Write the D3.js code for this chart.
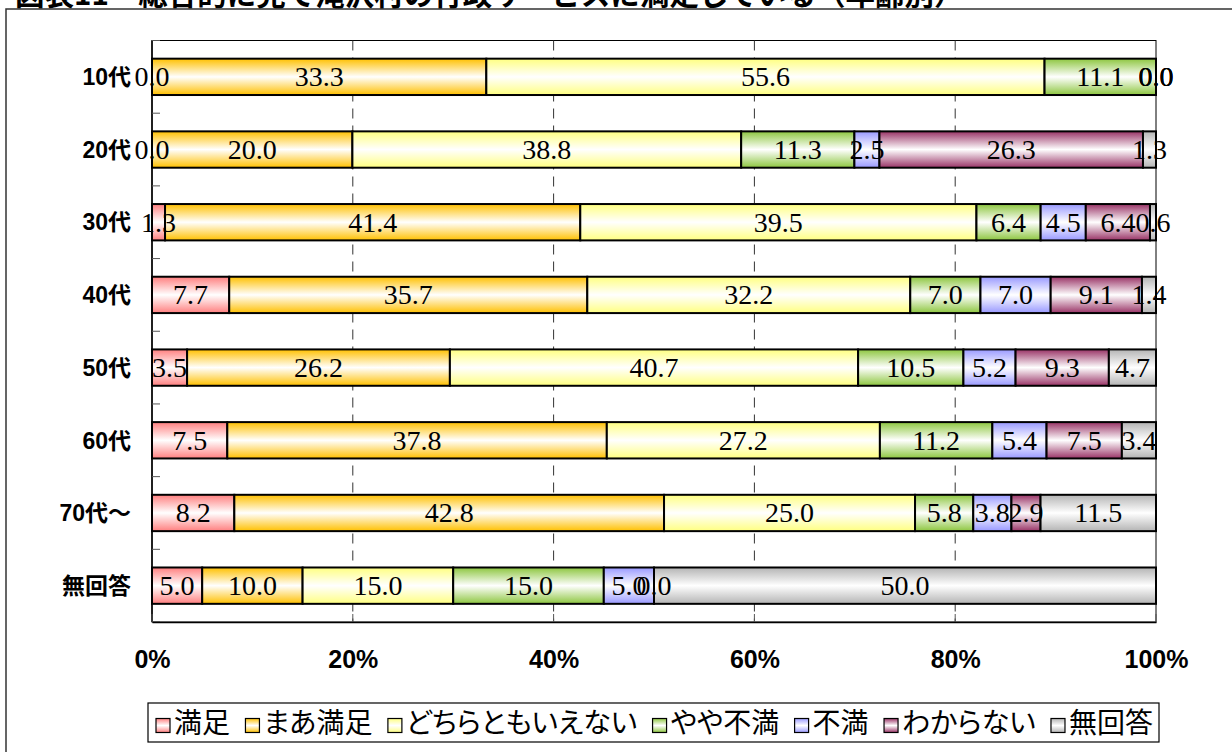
<!DOCTYPE html>
<html>
<head>
<meta charset="utf-8">
<script src="https://cdn.jsdelivr.net/npm/d3@7"></script>
<style>
  html, body { margin: 0; padding: 0; background: #fff; }
  svg { display: block; }
</style>
</head>
<body>
<svg id="chart" width="1232" height="752"></svg>
<script>
// ---- data ----
const categories = ["10代", "20代", "30代", "40代", "50代", "60代", "70代〜", "無回答"];
const seriesNames = ["満足", "まあ満足", "どちらともいえない", "やや不満", "不満", "わからない", "無回答"];
const manzoku     = [0.0, 0.0, 1.3, 7.7, 3.5, 7.5, 8.2, 5.0];
const maaManzoku  = [33.3, 20.0, 41.4, 35.7, 26.2, 37.8, 42.8, 10.0];
const dochiramo   = [55.6, 38.8, 39.5, 32.2, 40.7, 27.2, 25.0, 15.0];
const yayaFuman   = [11.1, 11.3, 6.4, 7.0, 10.5, 11.2, 5.8, 15.0];
const fuman       = [0.0, 2.5, 4.5, 7.0, 5.2, 5.4, 3.8, 5.0];
const wakaranai   = [0.0, 26.3, 6.4, 9.1, 9.3, 7.5, 2.9, 0.0];
const mukaitou    = [0.0, 1.3, 0.6, 1.4, 4.7, 3.4, 11.5, 50.0];
const xTickValues = [0, 0.2, 0.4, 0.6, 0.8, 1.0];
const xTickLabels = ["0%", "20%", "40%", "60%", "80%", "100%"];
const titleText = "図表11　総合的に見て滝沢村の行政サービスに満足している（年齢別）";

const seriesValues = [manzoku, maaManzoku, dochiramo, yayaFuman, fuman, wakaranai, mukaitou];
const seriesColors = ["#FF7F7F", "#FFC000", "#FFFF80", "#8DC63F", "#9999FF", "#993366", "#B4B4B4"];

// ---- layout ----
const svg = d3.select("#chart");
const plot = { left: 152, right: 1156, top: 40.5, bottom: 622 };

const rows = categories.map((c, i) => {
  const r = { cat: c };
  seriesNames.forEach((s, j) => { r[s] = seriesValues[j][i]; });
  return r;
});

const stack = d3.stack().keys(seriesNames).offset(d3.stackOffsetExpand);
const stacked = stack(rows);

const x = d3.scaleLinear().domain([0, 1]).range([plot.left, plot.right]);
const y = d3.scaleBand().domain(categories).range([plot.top, plot.bottom])
  .paddingInner(0.5).paddingOuter(0.25);

// gradients
const defs = svg.append("defs");
seriesColors.forEach((col, i) => {
  const g = defs.append("linearGradient").attr("id", "grad" + i)
    .attr("x1", 0).attr("y1", 0).attr("x2", 0).attr("y2", 1);
  g.append("stop").attr("offset", "0%").attr("stop-color", col);
  g.append("stop").attr("offset", "50%").attr("stop-color", "#FFFFFF");
  g.append("stop").attr("offset", "100%").attr("stop-color", col);
});

// title (partly cut at top)
svg.append("text")
  .attr("x", 15).attr("y", 5)
  .attr("font-family", "'Noto Sans CJK JP', sans-serif")
  .attr("font-weight", "bold")
  .attr("font-size", 29.5)
  .attr("fill", "#000")
  .text(titleText);

// outer frame
svg.append("rect")
  .attr("x", 6).attr("y", 9).attr("width", 1400).attr("height", 900)
  .attr("fill", "none").attr("stroke", "#333").attr("stroke-width", 1.5);

// plot border
svg.append("rect")
  .attr("x", plot.left).attr("y", plot.top)
  .attr("width", plot.right - plot.left).attr("height", plot.bottom - plot.top)
  .attr("fill", "#fff").attr("stroke", "#000").attr("stroke-width", 1);

// dashed grid lines
svg.append("g").selectAll("line")
  .data(xTickValues.filter(v => v > 0 && v < 1))
  .join("line")
  .attr("x1", d => x(d)).attr("x2", d => x(d))
  .attr("y1", plot.top).attr("y2", plot.bottom)
  .attr("stroke", "#333").attr("stroke-width", 1)
  .attr("stroke-dasharray", "10,7");

// bars
const layers = svg.append("g").selectAll("g")
  .data(stacked).join("g")
  .attr("fill", (d, i) => "url(#grad" + i + ")");

layers.selectAll("rect")
  .data(d => d)
  .join("rect")
  .attr("x", d => x(d[0]))
  .attr("y", d => y(d.data.cat))
  .attr("width", d => Math.max(0, x(d[1]) - x(d[0])))
  .attr("height", y.bandwidth())
  .attr("stroke", "#000")
  .attr("stroke-width", 2);

// left axis (ticks inward at band boundaries)
const boundaries = d3.range(categories.length + 1).map(i => plot.top + i * y.step());
const yAxisG = svg.append("g");
yAxisG.append("line")
  .attr("x1", plot.left).attr("x2", plot.left)
  .attr("y1", plot.top).attr("y2", plot.bottom)
  .attr("stroke", "#000").attr("stroke-width", 1.5);
yAxisG.selectAll("line.tick").data(boundaries).join("line")
  .attr("class", "tick")
  .attr("x1", plot.left).attr("x2", plot.left + 8)
  .attr("y1", d => d).attr("y2", d => d)
  .attr("stroke", "#555").attr("stroke-width", 1);

// category labels
svg.append("g").selectAll("text")
  .data(categories).join("text")
  .attr("x", 131)
  .attr("y", d => y(d) + y.bandwidth() / 2)
  .attr("dy", "0.36em")
  .attr("text-anchor", "end")
  .attr("font-family", "'Liberation Sans', 'Noto Sans CJK JP', sans-serif")
  .attr("font-weight", "bold")
  .attr("font-size", 23)
  .attr("fill", "#000")
  .text(d => d);

// bottom axis
const xAxis = d3.axisBottom(x).tickValues(xTickValues)
  .tickFormat((d, i) => xTickLabels[i]).tickSize(0).tickPadding(28);
const xg = svg.append("g").attr("transform", `translate(0,${plot.bottom})`).call(xAxis);
xg.select(".domain").attr("stroke", "#000").attr("stroke-width", 1.5);
xg.selectAll("text")
  .attr("font-family", "'Liberation Sans', sans-serif")
  .attr("font-weight", "bold")
  .attr("font-size", 25)
  .attr("fill", "#000");
svg.append("g").selectAll("line")
  .data(xTickValues).join("line")
  .attr("x1", d => x(d)).attr("x2", d => x(d))
  .attr("y1", plot.bottom).attr("y2", plot.bottom - 8)
  .attr("stroke", "#555").attr("stroke-width", 1);

// data labels (drawn above all bars)
const fmt = d3.format(".1f");
const labelData = [];
stacked.forEach((layer, i) => {
  layer.forEach((p, k) => labelData.push({ p, v: seriesValues[i][k] }));
});
svg.append("g").selectAll("text")
  .data(labelData)
  .join("text")
  .attr("x", d => (x(d.p[0]) + x(d.p[1])) / 2)
  .attr("y", d => y(d.p.data.cat) + y.bandwidth() / 2)
  .attr("dy", "0.34em")
  .attr("text-anchor", "middle")
  .attr("font-family", "'Liberation Serif', serif")
  .attr("font-size", 28)
  .attr("fill", "#000")
  .text(d => fmt(d.v));

// legend
const legend = { left: 148, right: 1159, top: 703, bottom: 742 };
svg.append("rect")
  .attr("x", legend.left).attr("y", legend.top)
  .attr("width", legend.right - legend.left).attr("height", legend.bottom - legend.top)
  .attr("fill", "#fff").attr("stroke", "#000").attr("stroke-width", 1.2);

const lg = svg.append("g");
const items = lg.selectAll("g").data(seriesNames).join("g");
items.append("rect")
  .attr("width", 14).attr("height", 14)
  .attr("y", -14)
  .attr("fill", (d, i) => "url(#grad" + i + ")")
  .attr("stroke", "#000").attr("stroke-width", 1.2);
items.append("text")
  .attr("x", 18)
  .attr("font-family", "'Liberation Sans', 'Noto Sans CJK JP', sans-serif")
  .attr("font-size", 28)
  .style("font-feature-settings", "'palt'")
  .attr("fill", "#000")
  .text(d => d);

// sequential layout filling the legend box
let widths = [];
items.each(function() {
  widths.push(18 + this.querySelector("text").getComputedTextLength());
});
const innerL = legend.left + 8, innerR = legend.right - 6;
const gap = (innerR - innerL - d3.sum(widths)) / (widths.length - 1);
let cx = innerL;
items.attr("transform", (d, i) => {
  const t = `translate(${cx},${(legend.top + legend.bottom) / 2 + 10})`;
  cx += widths[i] + gap;
  return t;
});
</script>
</body>
</html>
